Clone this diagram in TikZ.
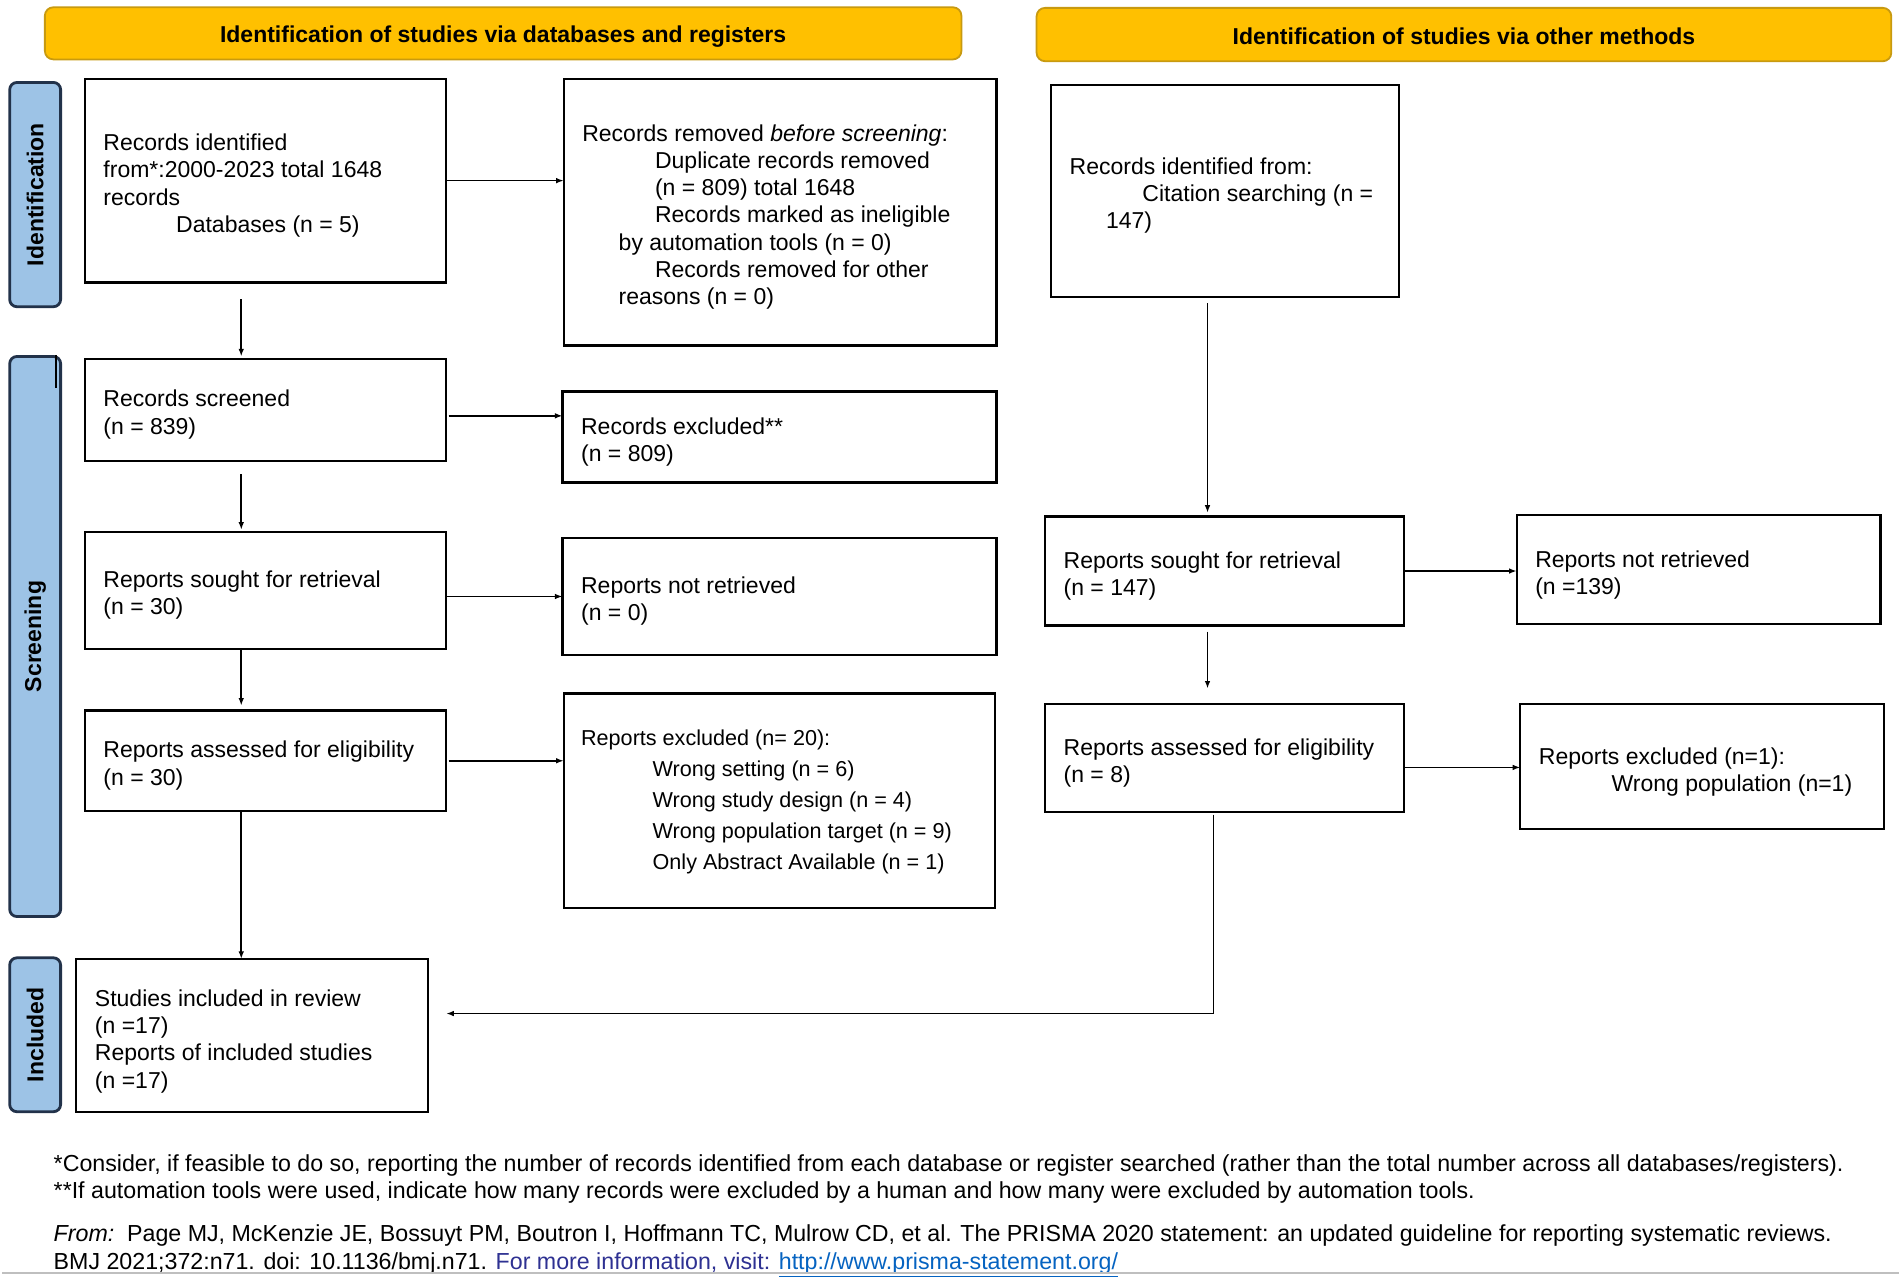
\documentclass[tikz,border=0pt]{standalone}
\usepackage{fontspec}
\setmainfont{Liberation Sans}
\usetikzlibrary{arrows.meta,calc}
\newlength\pu \setlength\pu{0.6062pt}
\definecolor{ybar}{HTML}{FFC000}
\definecolor{ybord}{HTML}{C89A10}
\definecolor{lblue}{HTML}{9DC3E6}
\definecolor{lbord}{HTML}{22324A}
\definecolor{navy}{HTML}{2E3192}
\definecolor{linkb}{HTML}{0563C1}
\newcommand\bx[5]{%
  \node[box, minimum width={(#4-#2)*\pu}, minimum height={(#5-#3)*\pu}] (#1) at ({(#2+#4)/2},{(#3+#5)/2}) {};}
\begin{document}
\begin{tikzpicture}[x=\pu,y=-\pu,
  box/.style={draw=black, line width=1.1pt, fill=white, inner sep=0pt, outer sep=0pt},
  txt/.style={align=left, inner sep=0pt, anchor=west, yshift=-4\pu, font=\fontsize{11.5}{13.6}\selectfont},
  hbar/.style={draw=ybord, fill=ybar, line width=0.9pt, rounded corners=7\pu, inner sep=0pt, text height=10.3pt, text depth=0.7pt, font=\bfseries\fontsize{11.5}{13}\selectfont},
  lab/.style={draw=lbord, fill=lblue, line width=1.4pt, rounded corners=6\pu, inner sep=0pt, rotate=90, font=\bfseries\fontsize{11.5}{13}\selectfont},
  arr/.style={-{Latex[length=3.8pt,width=2.8pt]}, line width=0.8pt},
  foot/.style={align=left, inner sep=0pt, anchor=west, font=\fontsize{11.6}{13.9}\selectfont}]
\useasboundingbox (0,0) rectangle (1568,1055);
\fill[white] (0,0) rectangle (1568,1055);

% headers
\node[hbar, minimum width=756\pu, minimum height=43\pu] (h1) at (415,27.5) {Identification of studies via databases and registers};
\node[hbar, minimum width=705\pu, minimum height=44\pu] (h2) at (1207.5,28.5) {Identification of studies via other methods};

% side labels
\node[lab, minimum width=185\pu, minimum height=42\pu] (l1) at (29,160.5) {Identification};
\node[lab, minimum width=462\pu, minimum height=42\pu] (l2) at (29,525) {Screening};
\node[lab, minimum width=127\pu, minimum height=42\pu] (l3) at (29,853.5) {Included};
\draw[line width=1.2pt, black] (46,293) -- (46,320);

% left column boxes
\bx{b1}{70}{65}{368}{233}
\bx{b2}{465}{65}{822}{285}
\bx{b3}{70}{296}{368}{380}
\bx{b4}{464}{323}{822}{398}
\bx{b5}{70}{439}{368}{535}
\bx{b6}{464}{444}{822}{540}
\bx{b7}{70}{586}{368}{669}
\bx{b8}{465}{572}{821}{749}
\bx{b9}{63}{791}{353}{917}
% right column boxes
\bx{c1}{867}{70}{1154}{245}
\bx{c2}{862}{426}{1158}{516}
\bx{c3}{1251}{425}{1551}{515}
\bx{c4}{862}{581}{1158}{670}
\bx{c5}{1254}{581}{1554}{684}

% texts
\node[txt] (b1t) at ([xshift=15\pu]b1.west) {Records identified\\from*:2000-2023 total 1648\\records\\\hspace*{60\pu}Databases (n = 5)};
\node[txt] (b2t) at ([xshift=15\pu]b2.west) {Records removed \textit{before screening}:\\\hspace*{60\pu}Duplicate records removed\\\hspace*{60\pu}(n = 809) total 1648\\\hspace*{60\pu}Records marked as ineligible\\\hspace*{30\pu}by automation tools (n = 0)\\\hspace*{60\pu}Records removed for other\\\hspace*{30\pu}reasons (n = 0)};
\node[txt] (b3t) at ([xshift=15\pu]b3.west) {Records screened\\(n = 839)};
\node[txt] (b4t) at ([xshift=15\pu]b4.west) {Records excluded**\\(n = 809)};
\node[txt] (b5t) at ([xshift=15\pu]b5.west) {Reports sought for retrieval\\(n = 30)};
\node[txt] (b6t) at ([xshift=15\pu]b6.west) {Reports not retrieved\\(n = 0)};
\node[txt] (b7t) at ([xshift=15\pu]b7.west) {Reports assessed for eligibility\\(n = 30)};
\node[txt, font=\fontsize{10.8}{15.5}\selectfont] (b8t) at ([xshift=14\pu,yshift=3\pu]b8.west) {Reports excluded (n= 20):\\\hspace*{59\pu}Wrong setting (n = 6)\\\hspace*{59\pu}Wrong study design (n = 4)\\\hspace*{59\pu}Wrong population target (n = 9)\\\hspace*{59\pu}Only Abstract Available (n = 1)};
\node[txt] (b9t) at ([xshift=15\pu,yshift=-1\pu]b9.west) {Studies included in review\\(n =17)\\Reports of included studies\\(n =17)};
\node[txt] (c1t) at ([xshift=15\pu,yshift=0\pu]c1.west) {Records identified from:\\\hspace*{60\pu}Citation searching (n =\\\hspace*{30\pu}147)};
\node[txt] (c2t) at ([xshift=15\pu]c2.west) {Reports sought for retrieval\\(n = 147)};
\node[txt] (c3t) at ([xshift=15\pu]c3.west) {Reports not retrieved\\(n =139)};
\node[txt] (c4t) at ([xshift=15\pu]c4.west) {Reports assessed for eligibility\\(n = 8)};
\node[txt] (c5t) at ([xshift=15\pu]c5.west) {Reports excluded (n=1):\\\hspace*{60\pu}Wrong population (n=1)};

% connectors
\coordinate (colA) at (199,0);
\coordinate (colB) at (996,0);
\draw[arr] ([yshift=-14\pu]b1.south -| colA) -- ([yshift=2\pu]b3.north -| colA);
\draw[arr] (b1.east) -- (b1.east -| b2.west);
\draw[arr] ([xshift=2\pu,yshift=-5\pu]b3.east) -- ([yshift=-5\pu]b3.east -| b4.west);
\draw[arr] ([yshift=-11\pu]b3.south -| colA) -- ([yshift=2\pu]b5.north -| colA);
\draw[arr] ([yshift=-5\pu]b5.east) -- ([yshift=-5\pu]b5.east -| b6.west);
\draw[arr] (b5.south -| colA) -- ([yshift=4\pu]b7.north -| colA);
\draw[arr] ([xshift=2\pu]b7.east) -- (b7.east -| b8.west);
\draw[arr] (b7.south -| colA) -- (b9.north -| colA);
\draw[arr] ([yshift=-5\pu]c1.south -| colB) -- ([yshift=3\pu]c2.north -| colB);
\draw[arr] (c2.east) -- (c2.east -| c3.west);
\draw[arr] ([yshift=-5\pu]c2.south -| colB) -- ([yshift=13\pu]c4.north -| colB);
\draw[arr] ([yshift=-7.5\pu]c4.east) -- ([yshift=-7.5\pu]c4.east -| c5.west);
\draw[arr] ([xshift=-9\pu,yshift=-2\pu]c4.south) |- ([xshift=15\pu,yshift=18\pu]b9.east);

% footnotes
\node[foot] (f1) at (44,972.5) {*Consider, if feasible to do so, reporting the number of records identified from each database or register searched (rather than the total number across all databases/registers).\\**If automation tools were used, indicate how many records were excluded by a human and how many were excluded by automation tools.};
\node[foot] (f2) at (44,1032) {\textit{From:}\ \ Page MJ, McKenzie JE, Bossuyt PM, Boutron I, Hoffmann TC, Mulrow CD, et al. The PRISMA 2020 statement: an updated guideline for reporting systematic reviews.\\BMJ 2021;372:n71. doi: 10.1136/bmj.n71. \textcolor{navy}{For more information, visit:} \textcolor{linkb}{\underline{http://www.prisma-statement.org/}}};
\draw[line width=1.2pt, black!25] (2,1050) -- (1566,1050);
\end{tikzpicture}
\end{document}
